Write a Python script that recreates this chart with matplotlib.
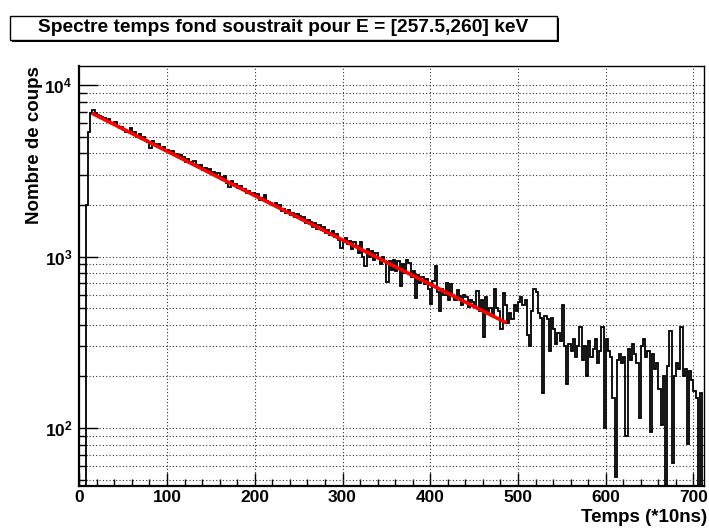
import numpy as np
import matplotlib.pyplot as plt
from matplotlib.ticker import MultipleLocator, FixedLocator, FixedFormatter, NullFormatter
from matplotlib.patches import Rectangle

plt.rcParams['font.family'] = 'Liberation Sans'
plt.rcParams['font.weight'] = 'bold'
plt.rcParams['mathtext.fontset'] = 'custom'
plt.rcParams['mathtext.rm'] = 'Liberation Sans:bold'
plt.rcParams['mathtext.bf'] = 'Liberation Sans:bold'
plt.rcParams['mathtext.it'] = 'Liberation Sans:bold'

# histogramme : 285 canaux de 2.5 (x10 ns) entre 0 et 712.5
t_min, t_max, n_bins = 0.0, 712.5, 285

counts = [
    0, 0, 0, 2000, 5300, 6900, 7100, 6900, 6700, 6600,
    6500, 6450, 6250, 6300, 6000, 5950, 6050, 5750, 5650, 5700,
    5500, 5350, 5400, 5600, 5150, 5300, 5000, 5150, 4850, 4950,
    4800, 4650, 4290, 4700, 4500, 4400, 4500, 4300, 4350, 4150,
    4200, 4050, 4100, 3900, 3980, 3800, 3900, 3820, 3580, 3700,
    3550, 3500, 3600, 3400, 3350, 3400, 3200, 3300, 3150, 3250,
    3050, 3100, 2950, 3050, 2900, 2800, 2950, 2700, 2550, 2750,
    2600, 2650, 2500, 2580, 2450, 2480, 2350, 2420, 2300, 2350,
    2250, 2300, 2150, 2180, 2280, 2120, 2080, 2050, 1990, 2050,
    1950, 2000, 1850, 1900, 1800, 1880, 1750, 1790, 1700, 1760,
    1720, 1630, 1700, 1560, 1640, 1600, 1480, 1560, 1450, 1520,
    1420, 1480, 1380, 1430, 1340, 1400, 1300, 1350, 1250, 1120,
    1230, 1280, 1180, 1240, 1100, 1210, 1150, 1050, 1220, 1000,
    880, 1100, 1000, 1080, 950, 1050, 980, 900, 1000, 940,
    715, 940, 830, 960, 820, 940, 670, 900, 800, 950,
    920, 760, 820, 575, 780, 700, 760, 690, 740, 650,
    530, 720, 880, 620, 480, 650, 600, 700, 560, 690,
    600, 560, 640, 590, 520, 600, 580, 510, 560, 540,
    520, 630, 480, 560, 340, 580, 470, 500, 460, 650,
    500, 480, 380, 610, 520, 410, 470, 430, 520, 480,
    540, 580, 520, 560, 350, 300, 480, 650, 620, 470,
    440, 160, 450, 430, 280, 440, 380, 310, 360, 320,
    520, 300, 180, 310, 280, 330, 260, 300, 390, 250,
    300, 200, 320, 260, 290, 330, 240, 280, 390, 100,
    330, 280, 260, 150, 52, 250, 270, 240, 260, 90,
    290, 250, 310, 270, 240, 115, 300, 330, 260, 280,
    95, 270, 220, 240, 170, 105, 200, 30, 230, 370,
    63, 200, 240, 220, 390, 200, 220, 81, 215, 190,
    165, 150, 30, 160, 20,
]

# ajustement exponentiel (droite en echelle log)
fit_t = [16, 485]
fit_counts = [6780, 415]

x_ticks = [0, 100, 200, 300, 400, 500, 600, 700]
y_ticks = [1e2, 1e3, 1e4]
y_labels = [r'$10^{2}$', r'$10^{3}$', r'$10^{4}$']

W, H = 709, 530
fig = plt.figure(figsize=(W / 100, H / 100), dpi=100)
ax = fig.add_axes([79.3 / W, 1 - 486 / H, (704 - 79.3) / W, (486 - 66) / H])

edges = np.linspace(t_min, t_max, n_bins + 1)
vals = np.clip(np.array(counts, dtype=float), 1, None)
ax.stairs(vals, edges, baseline=None, color='black', lw=1.3, zorder=3)
ax.plot(fit_t, fit_counts, color='red', lw=2.6, zorder=4)

ax.set_yscale('log')
ax.set_xlim(0, 712)
ax.set_ylim(46, 12900)

ax.xaxis.set_major_locator(FixedLocator(x_ticks))
ax.xaxis.set_minor_locator(MultipleLocator(20))
ax.yaxis.set_major_locator(FixedLocator(y_ticks))
ax.yaxis.set_major_formatter(FixedFormatter(y_labels))
minor_y = [m * 10.0 ** e for e in (1, 2, 3, 4) for m in range(2, 10)]
ax.yaxis.set_minor_locator(FixedLocator(minor_y))
ax.yaxis.set_minor_formatter(NullFormatter())

ax.tick_params(which='both', direction='in', top=False, right=False, labelsize=12.5)
ax.tick_params(axis='x', which='major', length=9.5, width=1.0, pad=3)
ax.tick_params(axis='x', which='minor', length=5, width=1.0)
ax.tick_params(axis='y', which='major', length=13.5, width=1.0, pad=5)
ax.tick_params(axis='y', which='minor', length=6, width=1.0)
for lab in ax.get_xticklabels() + ax.get_yticklabels():
    lab.set_fontweight('bold')

grid_style = dict(color='0.2', linestyle=(0, (1, 2)), lw=0.8)
ax.grid(axis='y', which='both', **grid_style)
ax.grid(axis='x', which='major', **grid_style)
ax.set_axisbelow(True)

for side in ['left', 'bottom']:
    ax.spines[side].set_linewidth(1.6)
for side in ['top', 'right']:
    ax.spines[side].set_linewidth(1.0)

# titres des axes
fig.text(35 / W, 1 - 66 / H, 'Nombre de coups', rotation=90, ha='center', va='top',
         fontsize=13.5, fontweight='bold')
fig.text(707 / W, 1 - 522 / H, 'Temps (*10ns)', ha='right', va='baseline',
         fontsize=13.5, fontweight='bold')

# cadre du titre avec ombre
bx0, by0, bx1, by1 = 10, 16, 557, 40
fig.patches.append(Rectangle(((bx0 + 2) / W, 1 - (by1 + 2) / H), (bx1 - bx0) / W, (by1 - by0) / H,
                             transform=fig.transFigure, facecolor='black', edgecolor='none'))
fig.patches.append(Rectangle((bx0 / W, 1 - by1 / H), (bx1 - bx0) / W, (by1 - by0) / H,
                             transform=fig.transFigure, facecolor='white', edgecolor='black', lw=1.0))
fig.text((bx0 + bx1) / 2 / W, 1 - (by0 + by1) / 2 / H,
         'Spectre temps fond soustrait pour E = [257.5,260] keV',
         ha='center', va='center', fontsize=13.8, fontweight='bold')

fig.savefig('out.png', dpi=100)
